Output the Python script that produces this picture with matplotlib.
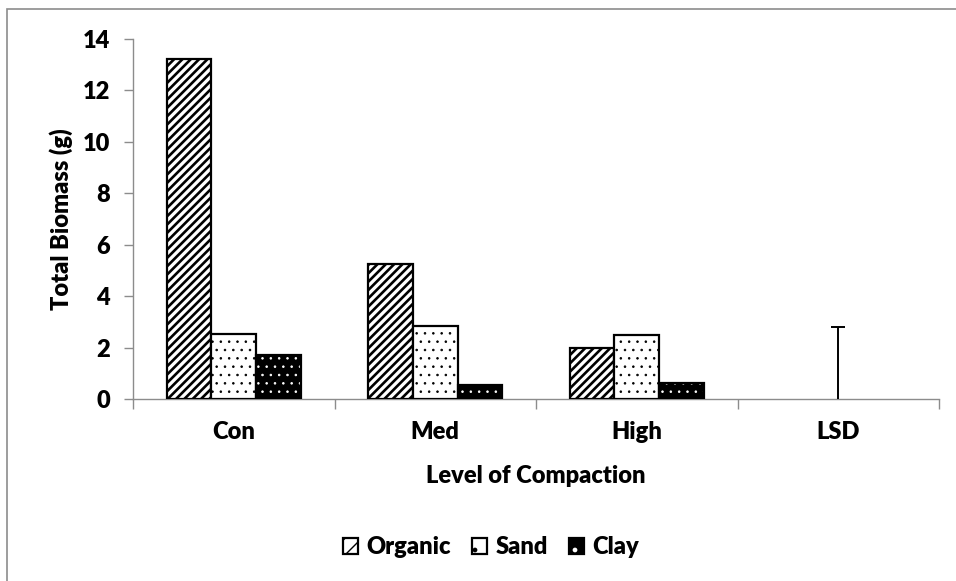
import matplotlib
matplotlib.use("Agg")
import matplotlib.pyplot as plt
from matplotlib.patches import Patch, Rectangle
from matplotlib.legend_handler import HandlerTuple
import numpy as np

categories = ["Con", "Med", "High", "LSD"]
organic = [13.22, 5.25, 2.00]
sand = [2.54, 2.82, 2.48]
clay = [1.72, 0.56, 0.62]
lsd_value = 2.8

plt.rcParams['font.family'] = ['Lato', 'DejaVu Sans']
WT = 'heavy'
plt.rcParams['font.weight'] = WT
FS = 17

fig = plt.figure(figsize=(9.56, 5.81), dpi=100)
ax = fig.add_axes([133/956, 182/581, (939-133)/956, (399-39)/581])

# outer chart border
fig.patches.append(Rectangle((7/956, -0.1), 1.2, 1 - 9/581 + 0.1, transform=fig.transFigure,
                             fill=False, edgecolor='#8c8c8c', linewidth=1.2, zorder=0))

x = np.arange(len(organic))
w = 1/4.5
lw = 1.6
with plt.rc_context({'hatch.linewidth': 1.9}):
    ax.bar(x - w, organic, w, facecolor='white', edgecolor='black', hatch='////', linewidth=lw, zorder=3)
    h_org = Patch(facecolor='white', edgecolor='black', hatch='//', linewidth=lw)
with plt.rc_context({'hatch.linewidth': 0.6}):
    ax.bar(x, sand, w, facecolor='white', edgecolor='black', hatch='..', linewidth=lw, zorder=3)
    ax.bar(x + w, clay, w, facecolor='black', edgecolor='white', hatch='..', linewidth=0, zorder=3)
    h_sand = Patch(facecolor='white', edgecolor='black', hatch='.', linewidth=lw)
    h_clay = (Patch(facecolor='black', edgecolor='white', hatch='.', linewidth=0),
              Patch(facecolor='none', edgecolor='black', linewidth=lw))
ax.bar(x + w, clay, w, facecolor='none', edgecolor='black', linewidth=lw, zorder=4)

eb = ax.errorbar([3], [0], yerr=[[0], [lsd_value]], fmt='none', ecolor='black',
                 elinewidth=1.4, capsize=5, capthick=1.4, zorder=5)
for cl in eb[1]:
    if np.allclose(cl.get_ydata(), 0):
        cl.set_visible(False)

ax.set_xlim(-0.5, 3.5)
ax.set_ylim(0, 14)
ax.set_yticks(np.arange(0, 15, 2))
ax.set_xticks(np.arange(-0.5, 4, 1))
ax.set_xticklabels([])
ax.set_xticks(np.arange(4), minor=True)
ax.set_xticklabels(categories, minor=True)
ax.tick_params(axis='x', which='major', length=7, width=1, color='#8c8c8c', direction='out')
ax.tick_params(axis='x', which='minor', length=0, pad=16, labelsize=FS)
ax.tick_params(axis='y', length=6.5, width=1, color='#8c8c8c', pad=10, labelsize=FS)

for s in ['top', 'right']:
    ax.spines[s].set_visible(False)
for s in ['left', 'bottom']:
    ax.spines[s].set_color('#8c8c8c')
    ax.spines[s].set_linewidth(1)

ax.set_ylabel("Total Biomass (g)", fontsize=FS, fontweight=WT, labelpad=7)
ax.set_xlabel("Level of Compaction", fontsize=FS, fontweight=WT, labelpad=16)

fig.legend([h_org, h_sand, h_clay], ["Organic", "Sand", "Clay"],
           handler_map={tuple: HandlerTuple(ndivide=1, pad=0)},
           loc='center', bbox_to_anchor=(491/956, 1 - 547/581), ncol=3, frameon=False,
           prop={'size': FS, 'weight': WT}, handlelength=0.65, handleheight=0.65,
           handletextpad=0.35, columnspacing=0.9)

fig.savefig("out.png", dpi=100)
